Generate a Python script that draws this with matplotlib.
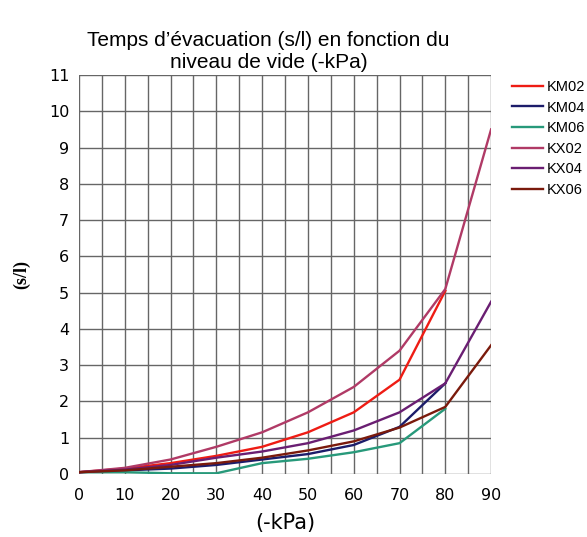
import matplotlib
matplotlib.use('Agg')
import matplotlib.pyplot as plt

# vacuum level (-kPa)
x = [0, 10, 20, 30, 40, 50, 60, 70, 80, 90]
x80 = x[:9]

# evacuation time (s/l)
km02 = [0.05, 0.15, 0.30, 0.50, 0.75, 1.15, 1.70, 2.60, 5.05]
km04 = [0.05, 0.10, 0.15, 0.25, 0.40, 0.55, 0.80, 1.30, 2.50]
km06 = [0.05, 0.05, 0.02, 0.02, 0.30, 0.42, 0.60, 0.85, 1.80]
kx02 = [0.05, 0.17, 0.40, 0.75, 1.15, 1.70, 2.40, 3.40, 5.10, 9.50]
kx04 = [0.05, 0.12, 0.25, 0.45, 0.62, 0.85, 1.20, 1.70, 2.50, 4.75]
kx06 = [0.05, 0.10, 0.20, 0.30, 0.45, 0.65, 0.90, 1.28, 1.85, 3.55]

fig = plt.figure(figsize=(5.87, 5.37), dpi=100)
ax = fig.add_axes([0.1346, 0.1173, 0.702, 0.743])

ax.plot(x80, km02, color='#ee1c14', lw=1.7, label='KM02')
ax.plot(x80, km04, color='#1c1c6a', lw=1.7, label='KM04')
ax.plot(x80, km06, color='#27997a', lw=1.7, label='KM06')
ax.plot(x, kx02, color='#b03a66', lw=1.7, label='KX02')
ax.plot(x, kx04, color='#6a1e72', lw=1.7, label='KX04')
ax.plot(x, kx06, color='#7a1a0c', lw=1.7, label='KX06')

ax.set_xlim(0, 90)
ax.set_ylim(0, 11)
ax.set_xticks(range(0, 91, 10))
ax.set_xticks(range(0, 91, 5), minor=True)
ax.set_yticks(range(0, 12))
ax.grid(which='both', color='#666666', lw=1.0)
ax.set_axisbelow(True)
ax.tick_params(which='both', length=0, labelsize=11.5)
ax.tick_params(axis='x', pad=10)
ax.tick_params(axis='y', pad=7)
for s in ax.spines.values():
    s.set_visible(False)

ax.set_title("Temps d\u2019\u00e9vacuation (s/l) en fonction du\nniveau de vide (-kPa)",
             fontsize=15, family='Liberation Sans', pad=5, x=0.46)
ax.set_xlabel('(-kPa)', fontsize=15, family='DejaVu Sans', labelpad=7)
ax.set_ylabel('(s/l)', fontsize=13, family='Liberation Serif', weight='bold', labelpad=13)

ax.legend(loc='upper left', bbox_to_anchor=(512 / 587, 1 - 80 / 537),
          bbox_transform=fig.transFigure, frameon=False,
          prop={'family': 'Liberation Sans', 'size': 10.5},
          handlelength=2.1, handletextpad=0.25, labelspacing=0.45,
          borderpad=0, borderaxespad=0)

fig.savefig('out.png', dpi=100, facecolor='white')
